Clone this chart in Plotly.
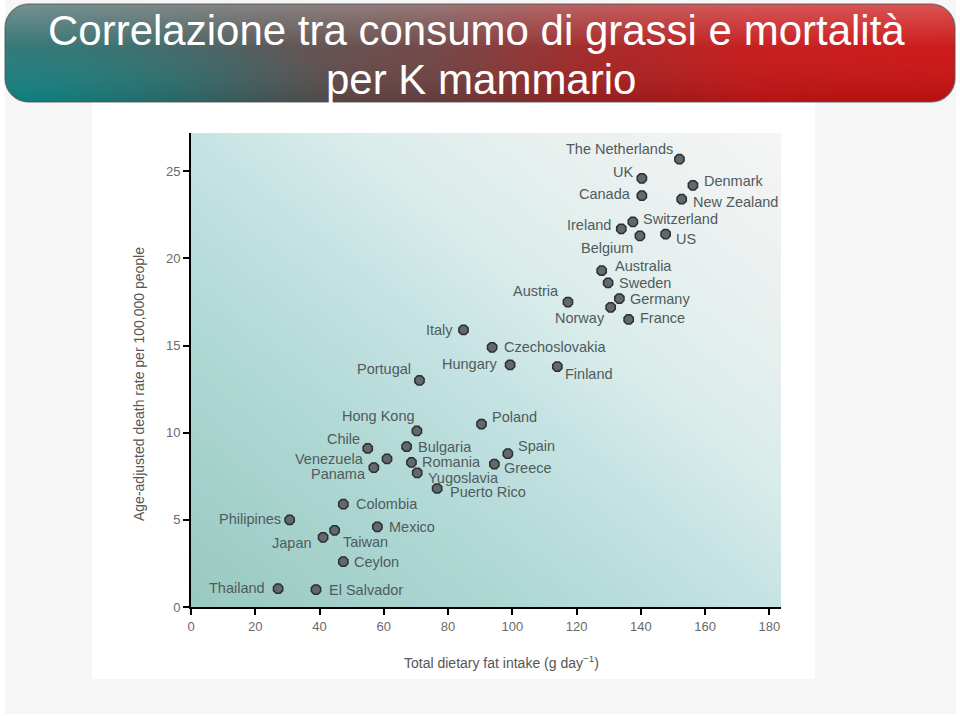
import base64
import plotly.graph_objects as go

# data
countries = ["The Netherlands", "UK", "Canada", "Denmark", "New Zealand", "Switzerland",
             "Ireland", "Belgium", "US", "Australia", "Sweden", "Germany", "Norway",
             "France", "Austria", "Italy", "Czechoslovakia", "Hungary", "Finland",
             "Portugal", "Hong Kong", "Poland", "Chile", "Bulgaria", "Venezuela",
             "Romania", "Panama", "Yugoslavia", "Spain", "Greece", "Puerto Rico",
             "Colombia", "Philipines", "Mexico", "Taiwan", "Japan", "Ceylon",
             "Thailand", "El Salvador"]
fat_intake = [152.0, 140.3, 140.3, 156.2, 152.7, 137.5, 133.9, 139.7, 147.7, 127.8,
              129.8, 133.3, 130.6, 136.2, 117.3, 84.8, 93.7, 99.3, 114.0, 71.1,
              70.3, 90.4, 55.0, 67.1, 61.0, 68.6, 56.9, 70.4, 98.6, 94.4,
              76.6, 47.4, 30.7, 58.0, 44.7, 41.1, 47.4, 27.1, 38.9]
death_rate = [25.7, 24.6, 23.6, 24.2, 23.4, 22.1, 21.7, 21.3, 21.4, 19.3,
              18.6, 17.7, 17.2, 16.5, 17.5, 15.9, 14.9, 13.9, 13.8, 13.0,
              10.1, 10.5, 9.1, 9.2, 8.5, 8.3, 8.0, 7.7, 8.8, 8.2,
              6.8, 5.9, 5.0, 4.6, 4.4, 4.0, 2.6, 1.05, 1.0]
x_ticks = [0, 20, 40, 60, 80, 100, 120, 140, 160, 180]
y_ticks = [0, 5, 10, 15, 20, 25]

# label placement next to each marker: (anchor, x offset px, y offset px downwards)
label_place = [
    ("right", -4, -10), ("right", -7, -6), ("right", -9, -2), ("left", 9, -4),
    ("left", 9, 3), ("left", 8, -3), ("right", -8, -4), ("right", -5, 12),
    ("left", 8, 5), ("left", 11, -5), ("left", 9, 0), ("left", 9, 0),
    ("right", -4, 11), ("left", 9, -1), ("right", -7, -11), ("right", -9, 0),
    ("left", 10, 0), ("right", -10, -1), ("left", 6, 7), ("right", -6, -11),
    ("right", 0, -15), ("left", 8, -7), ("right", -6, -9), ("left", 9, 0),
    ("right", -21, 0), ("left", 9, 0), ("right", -6, 6), ("left", 9, 5),
    ("left", 8, -8), ("left", 8, 4), ("left", 11, 3), ("left", 11, 0),
    ("right", -7, -1), ("left", 10, 0), ("left", 6, 12), ("right", -9, 6),
    ("left", 9, 0), ("right", -11, -1), ("left", 11, 0),
]

FONT = "Liberation Sans, Arial, sans-serif"


def svg_uri(svg):
    return "data:image/svg+xml;base64," + base64.b64encode(svg.encode()).decode()


# page background + title banner (pixel coordinates of the 960x716 page)
page_svg = """<svg xmlns="http://www.w3.org/2000/svg" width="960" height="716"
 viewBox="0 0 960 716" preserveAspectRatio="none">
<defs>
 <linearGradient id="bn" gradientUnits="userSpaceOnUse" x1="5" y1="60" x2="955" y2="50">
  <stop offset="0" stop-color="#3f6666"/>
  <stop offset="0.2" stop-color="#4d5858"/>
  <stop offset="0.45" stop-color="#6e4242"/>
  <stop offset="0.62" stop-color="#a42222"/>
  <stop offset="0.78" stop-color="#c41616"/>
  <stop offset="1" stop-color="#cc1111"/>
 </linearGradient>
 <radialGradient id="tl" gradientUnits="userSpaceOnUse" cx="20" cy="110" r="330"
  gradientTransform="translate(20 110) scale(1 0.35) translate(-20 -110)">
  <stop offset="0" stop-color="#0a9090" stop-opacity="1"/>
  <stop offset="0.5" stop-color="#1a8080" stop-opacity="0.6"/>
  <stop offset="1" stop-color="#2a7070" stop-opacity="0"/>
 </radialGradient>
 <linearGradient id="gl" x1="0" y1="0" x2="0" y2="1">
  <stop offset="0" stop-color="#ffffff" stop-opacity="0.28"/>
  <stop offset="0.45" stop-color="#ffffff" stop-opacity="0.04"/>
  <stop offset="1" stop-color="#000000" stop-opacity="0.10"/>
 </linearGradient>
 <clipPath id="bc"><rect x="5" y="4" width="950" height="98" rx="24" ry="24"/></clipPath>
</defs>
<rect x="5" y="0" width="951" height="714" fill="#f6f6f6"/>
<rect x="92" y="100" width="723" height="579" fill="#ffffff"/>
<g clip-path="url(#bc)">
 <rect x="5" y="4" width="950" height="98" fill="url(#bn)"/>
 <rect x="5" y="4" width="950" height="98" fill="url(#tl)"/>
 <rect x="5" y="4" width="950" height="98" fill="url(#gl)"/>
</g>
<rect x="5" y="4" width="950" height="98" rx="24" ry="24" fill="none"
 stroke="#555555" stroke-opacity="0.6" stroke-width="1.5"/>
</svg>"""

# soft teal-to-grey plot background
plot_svg = """<svg xmlns="http://www.w3.org/2000/svg" width="590" height="474"
 viewBox="0 0 590 474" preserveAspectRatio="none">
<defs>
 <linearGradient id="pa" x1="0" y1="1" x2="1" y2="0">
  <stop offset="0" stop-color="#98c9c1"/>
  <stop offset="0.3" stop-color="#b0d8d4"/>
  <stop offset="0.5" stop-color="#c6e3e3"/>
  <stop offset="0.62" stop-color="#d8ecea"/>
  <stop offset="0.8" stop-color="#e9f0ef"/>
  <stop offset="1" stop-color="#f5f5f5"/>
 </linearGradient>
</defs>
<rect x="0" y="0" width="590" height="474" fill="url(#pa)"/>
</svg>"""

fig = go.Figure()

fig.add_trace(go.Scatter(
    x=fat_intake,
    y=death_rate,
    mode="markers",
    text=countries,
    marker=dict(symbol="octagon", size=10, color="#62686b",
                line=dict(color="#2a2f33", width=1.5)),
    cliponaxis=False,
    hoverinfo="text",
    showlegend=False,
))

# country labels
for name, fx, dr, (anchor, dx, dy) in zip(countries, fat_intake, death_rate, label_place):
    fig.add_annotation(x=fx, y=dr, xref="x", yref="y", text=name, showarrow=False,
                       xanchor=anchor, yanchor="middle", xshift=dx, yshift=-dy,
                       font=dict(family=FONT, size=14.5, color="#4f5b5d"))

# plot area is 191..781 px wide and 133..607 px tall
W, H = 590.0, 474.0
L, B = 191.0, 607.0


def px_x(p):
    return (p - L) / W


def px_y(p):
    return (B - p) / H


fig.add_layout_image(dict(
    source=svg_uri(page_svg), xref="paper", yref="paper",
    x=px_x(0), y=px_y(0), sizex=960 / W, sizey=716 / H,
    xanchor="left", yanchor="top", sizing="stretch", layer="below"))
fig.add_layout_image(dict(
    source=svg_uri(plot_svg), xref="paper", yref="paper",
    x=0, y=1, sizex=1, sizey=1,
    xanchor="left", yanchor="top", sizing="stretch", layer="below"))

# title on the banner
fig.add_annotation(text="Correlazione tra consumo di grassi e mortalità",
                   xref="paper", yref="paper", x=px_x(476), y=px_y(31),
                   showarrow=False, xanchor="center", yanchor="middle",
                   font=dict(family=FONT, size=42, color="white"))
fig.add_annotation(text="per K mammario",
                   xref="paper", yref="paper", x=px_x(481), y=px_y(80),
                   showarrow=False, xanchor="center", yanchor="middle",
                   font=dict(family=FONT, size=42, color="white"))

# axis titles
fig.add_annotation(text="Age-adjusted death rate per 100,000 people",
                   xref="paper", yref="paper", x=px_x(139), y=px_y(384),
                   showarrow=False, textangle=-90, xanchor="center", yanchor="middle",
                   font=dict(family=FONT, size=14, color="#555"))
fig.add_annotation(text="Total dietary fat intake (g day<sup>−1</sup>)",
                   xref="paper", yref="paper", x=px_x(501), y=px_y(662),
                   showarrow=False, xanchor="center", yanchor="middle",
                   font=dict(family=FONT, size=14, color="#555"))

axis_style = dict(
    showline=True, linecolor="black", linewidth=2,
    ticks="outside", ticklen=6, tickwidth=2, tickcolor="black",
    showgrid=False, zeroline=False,
    tickfont=dict(family=FONT, size=13, color="#6a6a6a"),
)

fig.update_xaxes(range=[0, 183.6], tickvals=x_ticks, **axis_style)
fig.update_yaxes(range=[0, 27.2], tickvals=y_ticks, **axis_style)

fig.update_layout(
    width=960, height=716,
    margin=dict(l=191, r=179, t=133, b=109),
    paper_bgcolor="white",
    plot_bgcolor="rgba(0,0,0,0)",
    showlegend=False,
)

# the page body has a default 8px margin; drop it so the figure sits at the corner
fig.write_html("out.html", config={"displayModeBar": False},
               post_script="document.body.style.margin='0';")
